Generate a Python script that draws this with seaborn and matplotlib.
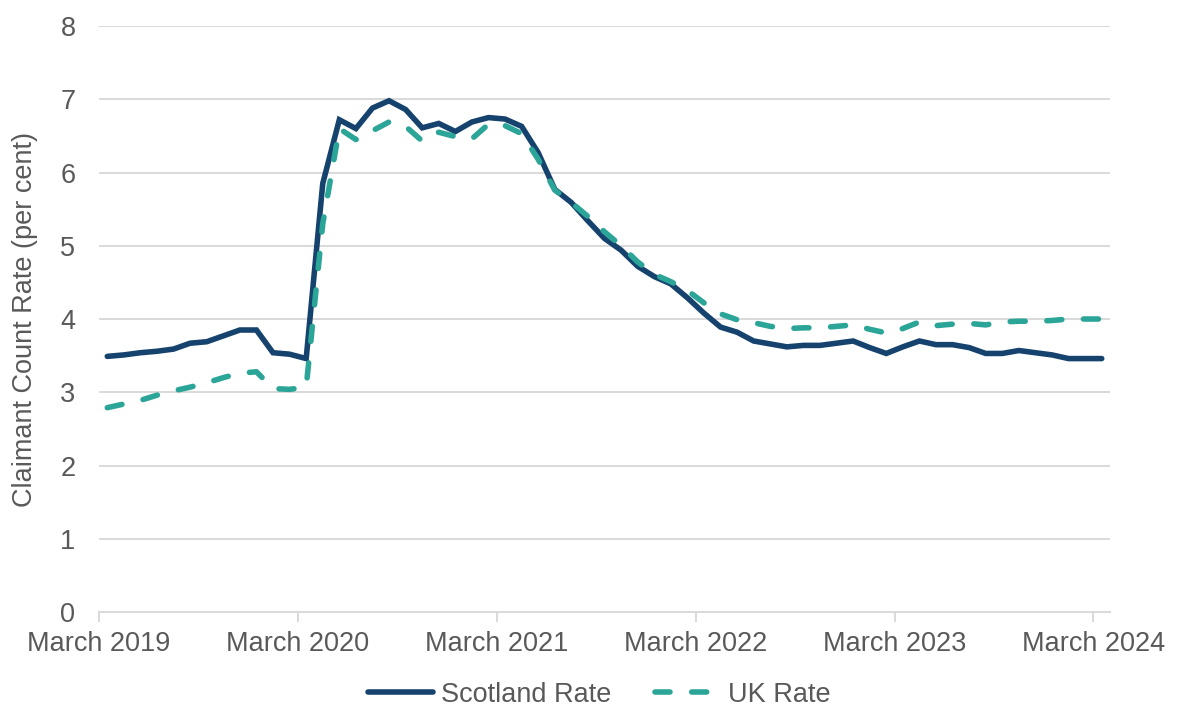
import pandas as pd
import matplotlib.pyplot as plt
import seaborn as sns

# monthly claimant count rate, March 2019 - March 2024
scotland_rate = [3.49, 3.51, 3.54, 3.56, 3.59, 3.67, 3.69, 3.77, 3.85, 3.85, 3.54, 3.52,
                 3.46, 5.85, 6.72, 6.60, 6.88, 6.98, 6.86, 6.61, 6.67, 6.56, 6.69, 6.75,
                 6.73, 6.63, 6.27, 5.77, 5.59, 5.34, 5.10, 4.94, 4.72, 4.58, 4.48, 4.29,
                 4.08, 3.89, 3.82, 3.70, 3.66, 3.62, 3.64, 3.64, 3.67, 3.70, 3.61, 3.53,
                 3.62, 3.70, 3.65, 3.65, 3.61, 3.53, 3.53, 3.57, 3.54, 3.51, 3.46, 3.46,
                 3.46]
uk_rate = [2.79, 2.84, 2.89, 2.96, 3.02, 3.07, 3.13, 3.20, 3.26, 3.28, 3.05, 3.04,
           3.07, 5.30, 6.60, 6.45, 6.57, 6.69, 6.63, 6.43, 6.55, 6.49, 6.46, 6.66,
           6.64, 6.53, 6.18, 5.76, 5.59, 5.40, 5.19, 5.00, 4.78, 4.61, 4.51, 4.39,
           4.22, 4.07, 3.99, 3.95, 3.90, 3.87, 3.88, 3.88, 3.90, 3.92, 3.86, 3.81,
           3.87, 3.96, 3.91, 3.93, 3.94, 3.92, 3.96, 3.97, 3.97, 3.98, 4.00, 4.00,
           4.00]
months = pd.date_range("2019-03-01", "2024-03-01", freq="MS")
tick_labels = ["March 2019", "March 2020", "March 2021", "March 2022", "March 2023", "March 2024"]
y_ticks = [0, 1, 2, 3, 4, 5, 6, 7, 8]

df = pd.DataFrame({
    "pos": range(len(months)),
    "month": months,
    "Scotland Rate": scotland_rate,
    "UK Rate": uk_rate,
})
long = df.melt(id_vars=["pos", "month"], var_name="series", value_name="rate")

sns.set_theme(style="whitegrid")
plt.rcParams["font.family"] = ["Liberation Sans", "DejaVu Sans"]
grey = "#595959"
fs = 19.5
lw = 4.0
traco = (2.7, 3.9)

fig = plt.figure(figsize=(11.8, 7.11), dpi=100)
ax = fig.add_axes([0.0839, 0.1392, 0.8568, 0.8242])

cores = {"Scotland Rate": "#15436E", "UK Rate": "#2BA598"}
sns.lineplot(data=long, x="pos", y="rate", hue="series", palette=cores,
             ax=ax, linewidth=lw, legend=False)
ax.lines[0].set_solid_capstyle("round")
ax.lines[0].set_solid_joinstyle("miter")
ax.lines[1].set_dashes(traco)
ax.lines[1].set_dash_capstyle("round")

ax.set_xlim(-0.5, len(months) - 0.5)
ax.set_ylim(0, 8)
ax.set_yticks(y_ticks)
ax.set_yticklabels([str(v) for v in y_ticks], fontsize=fs, color=grey)
ax.set_xticks([-0.5 + 12 * i for i in range(len(tick_labels))])
ax.set_xticklabels(tick_labels, fontsize=fs, color=grey)

ax.grid(axis="y", color="#D9D9D9", linewidth=1.4)
ax.grid(axis="x", visible=False)
for s in ["top", "right", "left"]:
    ax.spines[s].set_visible(False)
ax.spines["bottom"].set_color("#D9D9D9")
ax.spines["bottom"].set_linewidth(1.4)
ax.tick_params(axis="y", length=0, pad=17)
ax.tick_params(axis="x", length=7, width=1.4, color="#D9D9D9", pad=7, bottom=True)

ax.set_xlabel("")
ax.set_ylabel("Claimant Count Rate (per cent)", fontsize=fs, color=grey)
ax.yaxis.set_label_coords(-0.060, 0.5)

# legenda embaixo
handles = [
    plt.Line2D([], [], color=cores["Scotland Rate"], linewidth=lw),
    plt.Line2D([], [], color=cores["UK Rate"], linewidth=lw, dashes=traco,
               dash_capstyle="round"),
]
fig.legend(handles, ["Scotland Rate", "UK Rate"], loc="lower center",
           bbox_to_anchor=(0.508, -0.03), ncol=2, frameon=False, fontsize=fs,
           labelcolor=grey, handlelength=2.4, handletextpad=0.3, columnspacing=1.6)

fig.savefig("out.png", dpi=100)
